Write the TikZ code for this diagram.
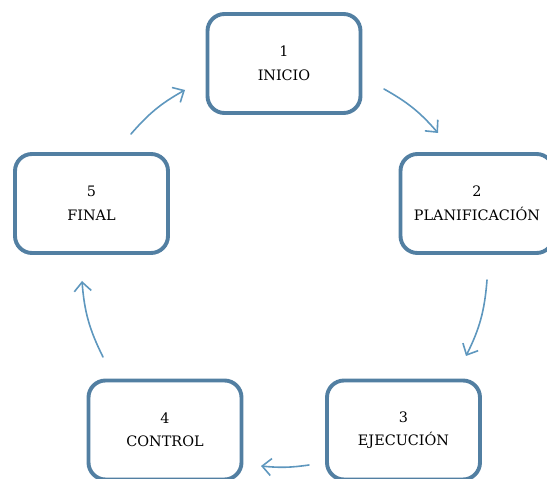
\documentclass[tikz,border=0pt]{standalone}
\usepackage{fontspec}
\setmainfont{DejaVu Serif}
\usetikzlibrary{arrows.meta}
\definecolor{boxblue}{HTML}{527FA2}
\definecolor{arrowblue}{HTML}{5E97BE}
\tikzset{
  stage/.style={draw=boxblue, line width=3.9pt, rounded corners=17pt, fill=white,
    minimum width=153pt, minimum height=99pt, align=center, inner sep=0pt,
    font=\fontsize{14.4}{23.5}\selectfont},
  flow/.style={draw=arrowblue, line width=1.6pt, line cap=round,
    -{Straight Barb[length=9pt,width=17pt,line width=1.6pt]}},
}
\begin{document}
\begin{tikzpicture}[x=1pt,y=1pt]
  \useasboundingbox (0,0) rectangle (547,479);
  \clip (0,0) rectangle (547,479);
  % the five stages of the cycle
  \node[stage] (s1) at (284,415.5) {1\\INICIO};
  \node[stage] (s2) at (477,275.5) {2\\PLANIFICACIÓN};
  \node[stage] (s3) at (403.5,49) {3\\EJECUCIÓN};
  \node[stage] (s4) at (165,49) {4\\CONTROL};
  \node[stage] (s5) at (91.5,275.5) {5\\FINAL};
  % arrow ends on the circle around the cycle
  \coordinate (a1s) at (384,390); \coordinate (a1e) at (438,346);
  \coordinate (a2s) at (487,199); \coordinate (a2e) at (466,123);
  \coordinate (a3s) at (309,14);  \coordinate (a3e) at (261,13);
  \coordinate (a4s) at (103,122); \coordinate (a4e) at (82,198);
  \coordinate (a5s) at (131,345); \coordinate (a5e) at (185,389);
  % clockwise arrows between the stages
  \draw[flow] (a1s) to[bend left=10] (a1e);
  \draw[flow] (a2s) to[bend left=11] (a2e);
  \draw[flow] (a3s) to[bend left=7] (a3e);
  \draw[flow] (a4s) to[bend left=11] (a4e);
  \draw[flow] (a5s) to[bend left=10] (a5e);
\end{tikzpicture}
\end{document}
